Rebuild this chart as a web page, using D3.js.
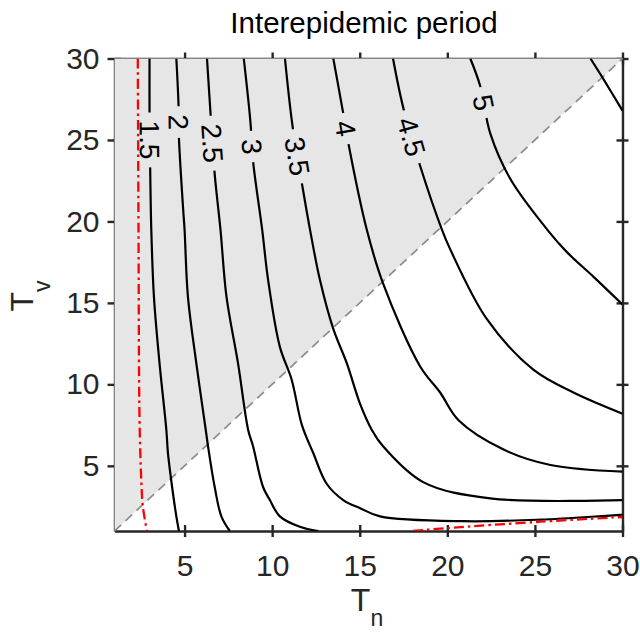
<!DOCTYPE html>
<html>
<head>
<meta charset="utf-8">
<script src="https://cdn.jsdelivr.net/npm/d3@7"></script>
<style>
  body { margin: 0; background: #fff; }
  svg text { font-family: "Liberation Sans", Arial, Helvetica, sans-serif; }
</style>
</head>
<body>
<svg id="chart" width="640" height="632"></svg>
<script>
/* ---------- data ---------- */
const xTicks = [5, 10, 15, 20, 25, 30];
const yTicks = [5, 10, 15, 20, 25, 30];

// contour polylines as [Tn, Tv]
const c1_5 = [[3.00,30],[3.00,26.8],[3.04,23.0],[3.10,19.5],[3.25,15.4],[3.57,11.3],[3.96,7.2],[4.05,5.8],[4.24,4.1],[4.53,1.9],[4.68,1]];
const c2   = [[4.53,30],[4.66,27.0],[4.68,25.1],[4.91,20.9],[5.00,19.5],[5.19,15.4],[5.67,11.3],[6.21,7.2],[6.34,6.2],[6.72,3.7],[7.10,1.9],[7.58,1]];
const c2_5 = [[6.28,30],[6.49,26.5],[6.72,22.9],[7.05,19.5],[7.39,15.4],[8.05,11.3],[8.63,7.2],[8.91,6.2],[9.48,3.7],[9.87,2.9],[10.44,1.9],[11.58,1.26],[12.63,1]];
const c3   = [[8.38,30],[8.76,26.1],[8.91,23.7],[9.43,19.5],[9.77,16.4],[10.44,12.3],[11.11,10.3],[11.70,7.5],[12.34,5.8],[13.11,3.9],[14.06,2.9],[15.02,2.4],[16.16,1.9],[20.93,1.6],[25.31,1.7],[30,2.0]];
const c3_5 = [[10.73,30],[11.17,25.8],[11.72,22.2],[12.16,19.5],[12.73,16.4],[13.49,13.4],[14.26,11.3],[15.02,8.8],[15.69,7.2],[16.33,6.2],[18.62,4.0],[22.45,3.0],[30,2.9]];
const c4   = [[13.49,30],[14.03,26.8],[14.35,24.8],[15.40,19.5],[16.33,16.2],[18.45,11.1],[19.59,9.5],[20.64,7.8],[23.21,6.0],[25.89,5.05],[30,4.64]];
const c4_5 = [[16.90,30],[17.48,27.0],[18.45,23.4],[19.69,19.5],[20.16,18.3],[22.26,14.0],[24.91,10.9],[27.20,9.5],[30,8.2]];
const c5   = [[21.31,30],[21.88,28.3],[22.45,25.4],[23.60,22.6],[25.70,19.5],[26.84,18.1],[28.35,16.6],[30,14.9]];
const c5_5 = [[28.17,30],[28.93,28.7],[30,26.8]];

const contourLines = [c1_5, c2, c2_5, c3, c3_5, c4, c4_5, c5, c5_5];
const contourLevels = ["1.5", "2", "2.5", "3", "3.5", "4", "4.5", "5", ""];
// Tv at which each label sits on its line
const labelTv = [25.0, 26.1, 24.8, 24.6, 24.0, 25.7, 25.2, 27.3, null];

// red dash-dot boundaries
const redLeft   = [[2.33,30],[2.37,19.5],[2.43,7.8],[2.53,4.1],[2.62,2.5],[2.85,1]];
const redBottom = [[18.05,1],[19.98,1.18],[25.31,1.57],[30,1.86]];

/* ---------- layout ---------- */
const svg = d3.select("#chart");
const x = d3.scaleLinear().domain([1, 30]).range([114.5, 622.5]);
const y = d3.scaleLinear().domain([1, 30]).range([531, 58.5]);
const axisColor = "#262626";

/* ---------- axes (drawn first, patch covers inner ticks) ---------- */
function styleAxis(g){
  g.select(".domain").attr("stroke", axisColor).attr("stroke-width", 2.4);
  g.selectAll(".tick line").attr("stroke", axisColor).attr("stroke-width", 2.4);
  g.selectAll(".tick text").attr("fill", axisColor).attr("font-size", 30);
}

const gx = svg.append("g")
  .attr("transform", `translate(0,${y(1)})`)
  .call(d3.axisBottom(x).tickValues(xTicks).tickSize(6).tickSizeOuter(0).tickPadding(18));
gx.selectAll(".tick line").attr("y1", -6).attr("y2", 6);
styleAxis(gx);

const gt = svg.append("g")
  .attr("transform", `translate(0,${y(30)})`)
  .call(d3.axisTop(x).tickValues(xTicks).tickSize(6).tickSizeOuter(0).tickFormat(""));
gt.selectAll(".tick line").attr("y1", 6).attr("y2", -6);
styleAxis(gt);

const gy = svg.append("g")
  .attr("transform", `translate(${x(1)},0)`)
  .call(d3.axisLeft(y).tickValues(yTicks).tickSize(7).tickSizeOuter(0).tickPadding(8));
gy.selectAll(".tick line").attr("x1", 7).attr("x2", -7);
styleAxis(gy);

const gr = svg.append("g")
  .attr("transform", `translate(${x(30)},0)`)
  .call(d3.axisRight(y).tickValues(yTicks).tickSize(6).tickSizeOuter(0).tickFormat(""));
gr.selectAll(".tick line").attr("x1", -6).attr("x2", 6);
styleAxis(gr);

/* ---------- shaded region T_v > T_n ---------- */
svg.append("path")
  .attr("d", d3.line().x(d => x(d[0])).y(d => y(d[1]))([[1,1],[30,30],[1,30]]) + "Z")
  .attr("fill", "#e6e6e6");

svg.append("defs").append("clipPath").attr("id", "plotclip")
  .append("rect")
  .attr("x", x(1)).attr("y", y(30))
  .attr("width", x(30) - x(1)).attr("height", y(1) - y(30));

svg.append("line")
  .attr("x1", x(1)).attr("y1", y(1)).attr("x2", x(30)).attr("y2", y(30))
  .attr("stroke", "#8c8c8c").attr("stroke-width", 1.7)
  .attr("stroke-dasharray", "9,6");

/* ---------- contours ---------- */
const line = d3.line()
  .x(d => x(d[0])).y(d => y(d[1]))
  .curve(d3.curveCatmullRom.alpha(0.5));

const mask = svg.select("defs").append("mask").attr("id", "gaps")
  .attr("maskUnits", "userSpaceOnUse")
  .attr("x", 0).attr("y", 0).attr("width", 640).attr("height", 632);
mask.append("rect").attr("width", 640).attr("height", 632).attr("fill", "white");

const plot = svg.append("g").attr("clip-path", "url(#plotclip)");
const cg = plot.append("g").attr("mask", "url(#gaps)");
cg.selectAll("path")
  .data(contourLines)
  .join("path")
  .attr("d", line)
  .attr("fill", "none")
  .attr("stroke", "#000")
  .attr("stroke-width", 2.2);

// labels placed on their line at the chosen T_v
const labels = svg.append("g");
contourLines.forEach((pts, i) => {
  if (labelTv[i] == null) return;
  const py = y(labelTv[i]);
  let k = 0;
  while (k < pts.length - 2 && y(pts[k + 1][1]) < py) k++;
  const ax = x(pts[k][0]), ay = y(pts[k][1]);
  const bx = x(pts[k + 1][0]), by = y(pts[k + 1][1]);
  const t = (py - ay) / (by - ay);
  const px = ax + t * (bx - ax);
  const ang = Math.atan2(by - ay, bx - ax) * 180 / Math.PI;

  const txt = labels.append("text")
    .attr("transform", `translate(${px},${py}) rotate(${ang})`)
    .attr("text-anchor", "middle")
    .attr("dy", "0.36em")
    .attr("font-size", 28)
    .attr("fill", "#000")
    .text(contourLevels[i]);
  const w = txt.node().getComputedTextLength() + 16;
  mask.append("rect")
    .attr("transform", `translate(${px},${py}) rotate(${ang})`)
    .attr("x", -w / 2).attr("y", -14)
    .attr("width", w).attr("height", 28)
    .attr("fill", "black");
});

/* ---------- red dash-dot lines ---------- */
plot.selectAll("path.red")
  .data([redLeft, redBottom])
  .join("path")
  .attr("class", "red")
  .attr("d", d3.line().x(d => x(d[0])).y(d => y(d[1])).curve(d3.curveCatmullRom.alpha(0.5)))
  .attr("fill", "none")
  .attr("stroke", "#ff0000")
  .attr("stroke-width", 2.3)
  .attr("stroke-dasharray", "10,4,2.5,4");

/* ---------- titles ---------- */
svg.append("text")
  .attr("x", 364).attr("y", 33)
  .attr("text-anchor", "middle")
  .attr("font-size", 29.5).attr("fill", "#000")
  .text("Interepidemic period");

const xl = svg.append("text")
  .attr("x", 367).attr("y", 611)
  .attr("text-anchor", "middle")
  .attr("fill", axisColor);
xl.append("tspan").attr("font-size", 32).text("T");
xl.append("tspan").attr("font-size", 23).attr("dy", 15).text("n");

const yl = svg.append("text")
  .attr("transform", `translate(33,296) rotate(-90)`)
  .attr("text-anchor", "middle")
  .attr("fill", axisColor);
yl.append("tspan").attr("font-size", 32).text("T");
yl.append("tspan").attr("font-size", 23).attr("dy", 17).text("v");
</script>
</body>
</html>
